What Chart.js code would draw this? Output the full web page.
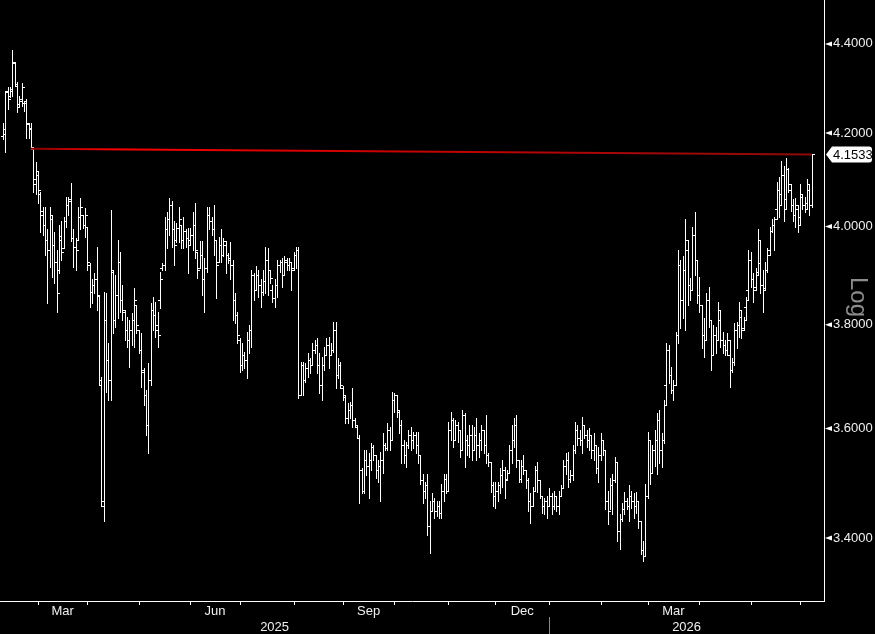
<!DOCTYPE html>
<html>
<head>
<meta charset="utf-8">
<title>Log OHLC</title>
<script src="https://cdn.jsdelivr.net/npm/chart.js@4.4.1/dist/chart.umd.min.js"></script>
<style>
  html, body { margin: 0; padding: 0; background: #000; }
  #wrap { width: 875px; height: 634px; position: relative; background: #000; }
</style>
</head>
<body>
<div id="wrap"><canvas id="chart" width="875" height="634"></canvas></div>
<script>
// Daily bars, first session 10 Feb 2025 (weekdays only)
const startDate = '2025-02-10';

const opens = [
  4.193,4.197,4.293,4.282,4.293,4.357,4.305,4.264,4.271,4.266,
  4.266,4.219,4.212,4.165,4.100,4.110,4.068,4.032,4.004,3.973,
  3.952,4.015,3.962,3.927,3.911,3.973,3.956,4.011,4.046,4.057,
  3.977,3.958,3.973,4.019,4.025,4.004,4.000,3.921,3.866,3.880,
  3.891,3.858,3.692,3.458,3.810,3.731,3.692,3.907,3.810,3.860,
  3.927,3.850,3.826,3.790,3.770,3.790,3.810,3.840,3.790,3.751,
  3.707,3.663,3.606,3.692,3.830,3.820,3.800,3.850,3.915,3.921,
  3.994,4.015,4.046,3.994,3.973,3.998,4.004,3.973,3.990,3.977,
  3.973,3.983,4.004,3.948,3.915,3.942,3.891,3.915,4.025,4.011,
  3.994,3.973,3.927,3.962,3.942,3.962,3.942,3.935,3.921,3.850,
  3.820,3.770,3.721,3.741,3.731,3.770,3.790,3.901,3.870,3.901,
  3.880,3.866,3.887,3.931,3.911,3.870,3.854,3.880,3.921,3.927,
  3.901,3.927,3.921,3.927,3.915,3.942,3.952,3.663,3.721,3.692,
  3.715,3.731,3.721,3.751,3.760,3.721,3.682,3.721,3.741,3.760,
  3.741,3.751,3.790,3.702,3.721,3.677,3.659,3.619,3.635,3.644,
  3.616,3.602,3.583,3.522,3.485,3.541,3.531,3.541,3.565,3.550,
  3.522,3.531,3.541,3.569,3.563,3.597,3.578,3.654,3.663,3.631,
  3.606,3.569,3.550,3.569,3.587,3.578,3.587,3.569,3.550,3.504,
  3.485,3.495,3.422,3.449,3.467,3.449,3.458,3.445,3.485,3.507,
  3.485,3.597,3.616,3.578,3.606,3.597,3.559,3.625,3.578,3.569,
  3.587,3.559,3.587,3.569,3.578,3.597,3.569,3.550,3.537,3.495,
  3.476,3.485,3.495,3.513,3.522,3.507,3.518,3.559,3.578,3.606,
  3.541,3.507,3.531,3.522,3.504,3.467,3.458,3.485,3.522,3.504,
  3.476,3.458,3.467,3.458,3.476,3.458,3.476,3.458,3.476,3.489,
  3.531,3.541,3.507,3.513,3.559,3.597,3.582,3.578,3.606,3.587,
  3.578,3.587,3.559,3.569,3.526,3.550,3.578,3.559,3.467,3.449,
  3.495,3.504,3.537,3.413,3.434,3.452,3.467,3.458,3.476,3.467,
  3.458,3.467,3.431,3.378,3.369,3.476,3.578,3.518,3.559,3.578,
  3.616,3.559,3.578,3.682,3.751,3.702,3.673,3.682,3.780,3.921,
  3.850,3.911,3.952,3.880,3.870,3.983,3.931,3.860,3.840,3.780,
  3.770,3.850,3.810,3.741,3.780,3.770,3.810,3.770,3.760,3.751,
  3.741,3.711,3.727,3.790,3.800,3.816,3.794,3.836,3.870,3.931,
  3.891,3.876,3.907,3.925,3.880,3.874,3.911,3.952,3.990,4.004,
  4.036,4.078,4.068,4.110,4.057,4.121,4.078,4.046,4.025,4.036,
  4.021,4.063,4.046,4.050,4.078,4.046
];

const highs = [
  4.223,4.293,4.302,4.302,4.386,4.359,4.313,4.282,4.311,4.271,
  4.275,4.223,4.223,4.169,4.136,4.117,4.072,4.040,4.040,3.994,
  4.042,4.025,3.988,3.952,4.004,4.011,4.021,4.063,4.063,4.091,
  3.994,3.977,4.042,4.059,4.025,4.038,4.000,3.925,3.891,3.905,
  3.958,3.860,3.698,3.866,3.864,3.764,4.034,3.911,3.901,3.973,
  3.948,3.880,3.830,3.816,3.810,3.824,3.874,3.840,3.790,3.784,
  3.715,3.673,3.725,3.844,3.856,3.846,3.826,3.907,3.925,4.019,
  4.030,4.061,4.053,4.011,4.008,4.040,4.004,4.021,3.994,3.998,
  3.998,4.030,4.050,3.948,3.969,3.969,3.935,4.042,4.040,4.021,
  4.046,3.973,3.979,3.994,3.977,3.969,3.946,3.967,3.931,3.864,
  3.826,3.774,3.764,3.747,3.786,3.800,3.911,3.905,3.919,3.911,
  3.891,3.911,3.958,3.956,3.911,3.880,3.891,3.931,3.931,3.935,
  3.938,3.935,3.935,3.927,3.948,3.958,3.958,3.727,3.727,3.725,
  3.745,3.735,3.764,3.770,3.774,3.745,3.737,3.756,3.774,3.776,
  3.764,3.806,3.806,3.735,3.727,3.680,3.663,3.648,3.650,3.677,
  3.619,3.606,3.587,3.527,3.559,3.559,3.554,3.572,3.569,3.550,
  3.541,3.556,3.591,3.572,3.610,3.602,3.669,3.667,3.663,3.635,
  3.616,3.578,3.574,3.597,3.602,3.593,3.593,3.593,3.550,3.516,
  3.500,3.516,3.467,3.480,3.471,3.467,3.467,3.498,3.516,3.516,
  3.612,3.631,3.619,3.616,3.612,3.597,3.635,3.629,3.587,3.606,
  3.606,3.602,3.619,3.591,3.606,3.597,3.625,3.554,3.537,3.500,
  3.500,3.500,3.526,3.541,3.528,3.522,3.569,3.606,3.619,3.625,
  3.541,3.541,3.550,3.522,3.509,3.480,3.491,3.531,3.537,3.504,
  3.476,3.471,3.476,3.489,3.480,3.485,3.476,3.485,3.495,3.541,
  3.554,3.556,3.522,3.569,3.612,3.606,3.597,3.621,3.606,3.597,
  3.600,3.587,3.591,3.569,3.565,3.591,3.578,3.559,3.485,3.509,
  3.516,3.546,3.537,3.443,3.463,3.482,3.471,3.495,3.485,3.480,
  3.482,3.467,3.431,3.395,3.498,3.593,3.578,3.569,3.597,3.629,
  3.635,3.591,3.654,3.764,3.760,3.717,3.692,3.786,3.952,3.931,
  3.938,4.015,3.973,3.895,4.000,4.030,3.931,3.897,3.840,3.814,
  3.864,3.876,3.810,3.800,3.796,3.846,3.830,3.786,3.770,3.784,
  3.770,3.735,3.804,3.806,3.846,3.830,3.816,3.856,3.952,3.948,
  3.905,3.915,3.994,3.973,3.911,3.927,3.956,4.000,4.015,4.021,
  4.095,4.104,4.139,4.128,4.145,4.125,4.089,4.057,4.061,4.046,
  4.089,4.068,4.063,4.100,4.089,4.1533
];

const lows = [
  4.186,4.159,4.253,4.279,4.282,4.305,4.246,4.260,4.260,4.249,
  4.190,4.190,4.165,4.072,4.068,4.050,3.988,3.983,3.942,3.844,
  3.917,3.897,3.884,3.826,3.905,3.931,3.956,4.000,4.025,3.969,
  3.917,3.911,3.973,3.994,3.998,3.979,3.911,3.836,3.844,3.864,
  3.830,3.682,3.458,3.431,3.669,3.654,3.654,3.784,3.796,3.814,
  3.826,3.810,3.770,3.756,3.717,3.760,3.756,3.784,3.745,3.678,
  3.644,3.587,3.555,3.682,3.790,3.776,3.756,3.834,3.911,3.911,
  3.956,3.983,3.958,3.921,3.967,3.967,3.956,3.956,3.958,3.905,
  3.962,3.952,3.935,3.895,3.915,3.860,3.826,3.907,3.994,3.983,
  3.942,3.854,3.927,3.927,3.938,3.905,3.925,3.891,3.810,3.804,
  3.764,3.707,3.711,3.715,3.696,3.745,3.756,3.850,3.870,3.856,
  3.836,3.860,3.864,3.860,3.884,3.846,3.836,3.856,3.907,3.876,
  3.901,3.911,3.911,3.870,3.911,3.915,3.658,3.663,3.663,3.688,
  3.698,3.705,3.721,3.745,3.705,3.667,3.654,3.711,3.741,3.715,
  3.741,3.747,3.677,3.696,3.677,3.654,3.610,3.610,3.619,3.602,
  3.602,3.582,3.463,3.480,3.480,3.513,3.472,3.522,3.541,3.509,
  3.500,3.467,3.518,3.559,3.559,3.559,3.578,3.631,3.621,3.591,
  3.535,3.535,3.528,3.563,3.559,3.563,3.554,3.535,3.498,3.463,
  3.472,3.406,3.374,3.449,3.436,3.440,3.436,3.436,3.467,3.480,
  3.485,3.578,3.565,3.578,3.574,3.546,3.559,3.528,3.550,3.546,
  3.541,3.559,3.541,3.546,3.559,3.554,3.535,3.531,3.482,3.458,
  3.454,3.467,3.480,3.491,3.471,3.504,3.518,3.535,3.565,3.528,
  3.500,3.500,3.516,3.489,3.449,3.427,3.458,3.485,3.482,3.472,
  3.445,3.443,3.436,3.458,3.443,3.452,3.449,3.443,3.476,3.489,
  3.516,3.491,3.500,3.504,3.554,3.569,3.569,3.554,3.582,3.565,
  3.559,3.545,3.541,3.518,3.500,3.541,3.550,3.452,3.425,3.452,
  3.443,3.500,3.395,3.381,3.431,3.443,3.452,3.431,3.454,3.436,
  3.445,3.418,3.372,3.360,3.369,3.472,3.498,3.518,3.531,3.516,
  3.535,3.528,3.572,3.644,3.686,3.667,3.654,3.682,3.764,3.794,
  3.814,3.790,3.840,3.850,3.870,3.901,3.844,3.826,3.754,3.737,
  3.770,3.796,3.711,3.741,3.745,3.770,3.756,3.745,3.741,3.741,
  3.678,3.707,3.721,3.754,3.776,3.774,3.790,3.810,3.850,3.876,
  3.846,3.870,3.901,3.864,3.826,3.870,3.907,3.942,3.988,3.952,
  4.015,4.019,4.046,4.011,4.036,4.072,4.032,4.011,4.000,3.988,
  4.004,4.036,4.030,4.036,4.025,4.040
];

const closes = [
  4.208,4.290,4.275,4.297,4.359,4.309,4.257,4.275,4.302,4.271,
  4.223,4.208,4.169,4.089,4.117,4.078,4.025,4.004,3.973,3.952,
  4.025,3.962,3.927,3.864,3.981,3.948,4.011,4.046,4.053,3.977,
  3.958,3.952,4.019,4.040,4.004,4.025,3.927,3.866,3.880,3.891,
  3.860,3.682,3.467,3.810,3.731,3.692,3.911,3.810,3.860,3.927,
  3.850,3.830,3.790,3.770,3.790,3.810,3.850,3.800,3.751,3.711,
  3.663,3.606,3.692,3.830,3.820,3.790,3.780,3.891,3.921,3.994,
  4.015,4.046,3.994,3.962,3.998,4.015,3.973,3.990,3.977,3.962,
  3.983,4.004,3.952,3.911,3.942,3.891,3.915,4.025,4.011,3.994,
  3.973,3.921,3.962,3.942,3.969,3.942,3.931,3.921,3.850,3.820,
  3.780,3.721,3.741,3.731,3.770,3.790,3.901,3.870,3.901,3.880,
  3.866,3.887,3.931,3.911,3.895,3.854,3.880,3.921,3.927,3.901,
  3.931,3.921,3.927,3.911,3.942,3.952,3.663,3.721,3.692,3.715,
  3.731,3.721,3.751,3.760,3.721,3.682,3.721,3.741,3.760,3.741,
  3.751,3.790,3.702,3.721,3.682,3.663,3.619,3.635,3.644,3.616,
  3.606,3.583,3.522,3.485,3.541,3.531,3.541,3.565,3.550,3.522,
  3.531,3.541,3.569,3.563,3.597,3.578,3.654,3.663,3.635,3.606,
  3.569,3.550,3.569,3.587,3.578,3.587,3.569,3.550,3.504,3.485,
  3.495,3.422,3.449,3.467,3.449,3.458,3.445,3.485,3.507,3.485,
  3.597,3.616,3.578,3.606,3.597,3.559,3.625,3.578,3.569,3.587,
  3.559,3.587,3.569,3.578,3.597,3.569,3.550,3.537,3.495,3.476,
  3.485,3.495,3.513,3.522,3.504,3.518,3.559,3.578,3.606,3.541,
  3.507,3.531,3.522,3.504,3.467,3.458,3.485,3.522,3.504,3.476,
  3.458,3.467,3.458,3.476,3.458,3.476,3.458,3.476,3.489,3.531,
  3.541,3.507,3.513,3.559,3.597,3.582,3.578,3.606,3.587,3.578,
  3.587,3.559,3.569,3.526,3.550,3.578,3.559,3.467,3.449,3.495,
  3.504,3.537,3.413,3.434,3.452,3.467,3.458,3.476,3.467,3.458,
  3.467,3.431,3.378,3.369,3.476,3.578,3.518,3.559,3.578,3.616,
  3.559,3.578,3.644,3.751,3.702,3.673,3.682,3.780,3.921,3.850,
  3.911,3.973,3.880,3.870,3.983,3.931,3.860,3.840,3.780,3.770,
  3.850,3.810,3.741,3.780,3.770,3.830,3.770,3.760,3.751,3.770,
  3.711,3.727,3.790,3.800,3.830,3.790,3.810,3.850,3.931,3.891,
  3.870,3.901,3.973,3.880,3.870,3.911,3.942,3.990,4.004,4.015,
  4.078,4.046,4.110,4.036,4.121,4.089,4.046,4.025,4.046,4.004,
  4.068,4.046,4.036,4.089,4.046,4.1533
];

const yTicks = [3.4, 3.6, 3.8, 4.0, 4.2, 4.4];
const monthNames = ['Jan','Feb','Mar','Apr','May','Jun','Jul','Aug','Sep','Oct','Nov','Dec'];
const labelledMonths = ['Mar', 'Jun', 'Sep', 'Dec'];
const lastPrice = 4.1533;
const trendStartIdx = 12;
const trendStartValue = 4.166;

// weekday calendar for the bars
function tradingDays(start, count) {
    const out = [];
    const d = new Date(start + 'T00:00:00Z');
    while (out.length < count) {
        const wd = d.getUTCDay();
        if (wd !== 0 && wd !== 6) out.push(new Date(d));
        d.setUTCDate(d.getUTCDate() + 1);
    }
    return out;
}
const dates = tradingDays(startDate, highs.length);

const FONT = '"Liberation Sans", Arial, sans-serif';
const AXIS_TEXT = '#f0f0f0';

// OHLC bars: high-low stem, open tick left, close tick right
const ohlcPlugin = {
    id: 'ohlc',
    beforeDatasetsDraw(chart) {
        const { ctx, chartArea, scales: { x, y } } = chart;
        ctx.save();
        ctx.beginPath();
        ctx.rect(chartArea.left, chartArea.top, chartArea.width, chartArea.height);
        ctx.clip();
        ctx.fillStyle = '#ffffff';
        for (let i = 0; i < highs.length; i++) {
            const px = Math.round(x.getPixelForValue(i));
            const yh = Math.round(y.getPixelForValue(highs[i]));
            const yl = Math.round(y.getPixelForValue(lows[i]));
            ctx.fillRect(px, yh, 1, Math.max(1, yl - yh + 1));
            ctx.fillRect(px - 2, Math.round(y.getPixelForValue(opens[i])), 2, 1);
            ctx.fillRect(px + 1, Math.round(y.getPixelForValue(closes[i])), 2, 1);
        }
        ctx.restore();
    }
};

// month ticks, quarter labels, years, price markers, last price tag
const decorPlugin = {
    id: 'decor',
    afterDraw(chart) {
        const { ctx, chartArea, scales: { x, y } } = chart;
        ctx.save();

        // month boundaries
        const starts = [];
        for (let i = 1; i < dates.length; i++) {
            if (dates[i].getUTCMonth() !== dates[i - 1].getUTCMonth()) starts.push(i);
        }
        ctx.strokeStyle = '#ffffff';
        ctx.lineWidth = 1;
        starts.forEach(i => {
            const px = Math.round(x.getPixelForValue(i)) + 0.5;
            ctx.beginPath();
            ctx.moveTo(px, chartArea.bottom);
            ctx.lineTo(px, chartArea.bottom + 4);
            ctx.stroke();
        });

        ctx.font = '13px ' + FONT;
        ctx.fillStyle = AXIS_TEXT;
        ctx.textAlign = 'center';
        ctx.textBaseline = 'middle';
        starts.forEach((i, k) => {
            const name = monthNames[dates[i].getUTCMonth()];
            // only whole months get a label
            if (!labelledMonths.includes(name) || k + 1 >= starts.length) return;
            const a = x.getPixelForValue(i);
            const b = x.getPixelForValue(starts[k + 1]);
            ctx.fillText(name, (a + b) / 2, chartArea.bottom + 10);
        });

        // years
        const yearStarts = [0].concat(starts.filter(i => dates[i].getUTCMonth() === 0));
        yearStarts.forEach((i, k) => {
            const a = i === 0 ? chartArea.left : x.getPixelForValue(i);
            const b = k + 1 < yearStarts.length ? x.getPixelForValue(yearStarts[k + 1]) : chartArea.right;
            ctx.fillStyle = AXIS_TEXT;
            ctx.fillText(String(dates[i].getUTCFullYear()), (a + b) / 2, chartArea.bottom + 26);
            if (i !== 0) {
                const px = Math.round(a) + 0.5;
                ctx.strokeStyle = '#8a8a8a';
                ctx.beginPath();
                ctx.moveTo(px, chartArea.bottom + 16);
                ctx.lineTo(px, chartArea.bottom + 33);
                ctx.stroke();
            }
        });

        // small arrow markers at the price ticks
        ctx.fillStyle = '#ffffff';
        yTicks.forEach(v => {
            const py = y.getPixelForValue(v);
            ctx.beginPath();
            ctx.moveTo(chartArea.right + 1, py);
            ctx.lineTo(chartArea.right + 8, py - 2.5);
            ctx.lineTo(chartArea.right + 8, py + 2.5);
            ctx.closePath();
            ctx.fill();
        });

        // last price tag
        const ly = y.getPixelForValue(lastPrice);
        const l = chartArea.right + 2, r = 872, h = 8, rad = 3;
        ctx.fillStyle = '#ffffff';
        ctx.beginPath();
        ctx.moveTo(l, ly);
        ctx.lineTo(l + 6, ly - h);
        ctx.lineTo(r - rad, ly - h);
        ctx.quadraticCurveTo(r, ly - h, r, ly - h + rad);
        ctx.lineTo(r, ly + h - rad);
        ctx.quadraticCurveTo(r, ly + h, r - rad, ly + h);
        ctx.lineTo(l + 6, ly + h);
        ctx.closePath();
        ctx.fill();
        ctx.fillStyle = '#000000';
        ctx.textAlign = 'left';
        ctx.fillText(lastPrice.toFixed(4), chartArea.right + 9, ly + 0.5);

        // scale type note
        ctx.translate(858, 297);
        ctx.rotate(Math.PI / 2);
        ctx.font = '24px ' + FONT;
        ctx.fillStyle = '#8c8c8c';
        ctx.textAlign = 'center';
        ctx.fillText('Log', 0, 0);

        ctx.restore();
    }
};

// trend line fades from dark to bright red and back
function trendColor(context) {
    const area = context.chart.chartArea;
    if (!area) return '#b40000';
    const g = context.chart.ctx.createLinearGradient(area.left, 0, area.right, 0);
    g.addColorStop(0.03, '#7a0000');
    g.addColorStop(0.14, '#ff0000');
    g.addColorStop(0.30, '#e00000');
    g.addColorStop(1.00, '#8a0a0a');
    return g;
}

const ctx = document.getElementById('chart').getContext('2d');
new Chart(ctx, {
    type: 'line',
    data: {
        datasets: [{
            label: 'Trend',
            data: [
                { x: trendStartIdx, y: trendStartValue },
                { x: highs.length - 1, y: lastPrice }
            ],
            borderColor: trendColor,
            borderWidth: 2,
            pointRadius: 0,
            tension: 0
        }]
    },
    options: {
        responsive: false,
        animation: false,
        devicePixelRatio: 1,
        events: [],
        layout: { padding: 0, autoPadding: false },
        plugins: { legend: { display: false }, tooltip: { enabled: false } },
        scales: {
            x: {
                type: 'linear',
                min: -1.2,
                max: 350.2,
                grid: { display: false, drawTicks: false },
                border: { display: true, color: '#ffffff', width: 1 },
                ticks: { display: false },
                afterFit(scale) {
                    scale.height = 33;
                    scale.paddingLeft = 0;
                    scale.paddingRight = 0;
                }
            },
            y: {
                type: 'logarithmic',
                position: 'right',
                min: 3.290,
                max: 4.502,
                grid: { display: false, drawTicks: false },
                border: { display: true, color: '#ffffff', width: 1 },
                afterBuildTicks(scale) { scale.ticks = yTicks.map(v => ({ value: v })); },
                afterFit(scale) {
                    scale.width = 51;
                    scale.paddingTop = 0;
                    scale.paddingBottom = 0;
                },
                ticks: {
                    color: AXIS_TEXT,
                    font: { family: FONT, size: 13 },
                    padding: 9,
                    autoSkip: false,
                    callback: v => Number(v).toFixed(4)
                }
            }
        }
    },
    plugins: [ohlcPlugin, decorPlugin]
});
</script>
</body>
</html>
